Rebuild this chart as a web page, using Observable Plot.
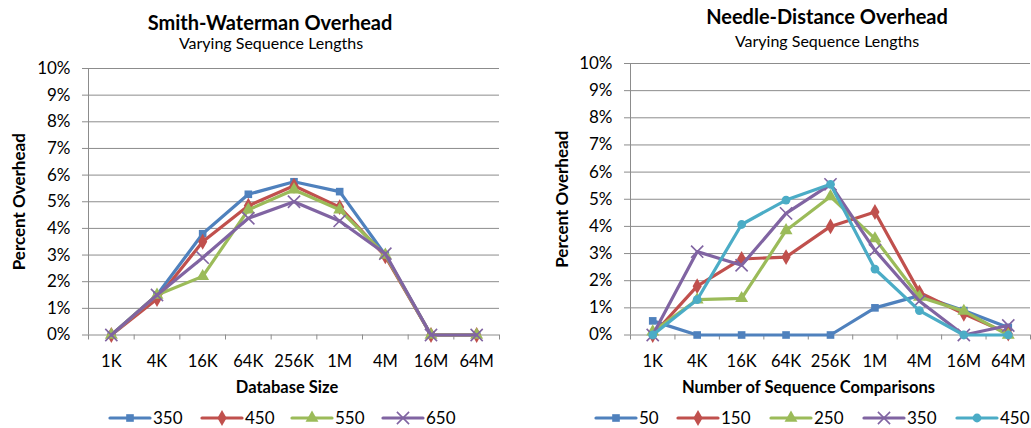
<!DOCTYPE html>
<html>
<head>
<meta charset="utf-8">
<script src="https://cdn.jsdelivr.net/npm/d3@7"></script>
<script src="https://cdn.jsdelivr.net/npm/@observablehq/plot@0.6"></script>
<style>
  html, body { margin: 0; padding: 0; background: #fff; }
  #wrap { position: relative; width: 1031px; height: 428px; overflow: hidden; font-family: Lato, "Open Sans", sans-serif; }
  #wrap > .panel { position: absolute; top: 0; }
  #overlay { position: absolute; left: 0; top: 0; pointer-events: none; }
</style>
</head>
<body>
<div id="wrap"></div>
<script>
// ---------- data ----------
const categories = ["1K", "4K", "16K", "64K", "256K", "1M", "4M", "16M", "64M"];
const yTicks = [0, 1, 2, 3, 4, 5, 6, 7, 8, 9, 10];

// Smith-Waterman (percent overhead), series = sequence length
const swNames = ["350", "450", "550", "650"];
const sw350 = [0, 1.5, 3.8, 5.28, 5.75, 5.38, 3.0, 0, 0];
const sw450 = [0, 1.35, 3.5, 4.85, 5.6, 4.8, 2.95, 0, 0];
const sw550 = [0, 1.5, 2.2, 4.7, 5.45, 4.7, 3.0, 0, 0];
const sw650 = [0, 1.5, 2.9, 4.38, 5.0, 4.28, 3.05, 0, 0];

// Needle-Distance (percent overhead)
const ndNames = ["50", "150", "250", "350", "450"];
const nd50  = [0.52, 0, 0, 0, 0, 1.0, 1.45, 0.9, 0.28];
const nd150 = [0, 1.8, 2.8, 2.87, 4.0, 4.53, 1.57, 0.78, 0.05];
const nd250 = [0.12, 1.3, 1.35, 3.85, 5.1, 3.55, 1.4, 0.88, 0];
const nd350 = [0, 3.07, 2.57, 4.48, 5.55, 3.12, 1.25, 0, 0.35];
const nd450 = [0, 1.3, 4.07, 4.97, 5.55, 2.43, 0.9, 0, 0];

// ---------- styles ----------
const FONT = "Lato, 'Open Sans', sans-serif";
const GRID = "#8c8c8c";
const palette = ["#4F81BD", "#C0504D", "#9BBB59", "#8064A2", "#4BACC6"];
const symbols = ["square", "diamond", "triangle", "times", "circle"];
const d3symbols = [d3.symbolSquare, d3.symbolDiamond, d3.symbolTriangle, d3.symbolTimes, d3.symbolCircle];
const symR = [4.3, 4.8, 4.8, 5.6, 4.4];

function makeChart({names, values, styleIdx, width, height, mt, mb, ml, mr, xLabel, xdx, ydx}) {
  const marks = [
    Plot.gridY({ticks: yTicks, stroke: GRID, strokeOpacity: 1, strokeWidth: 1}),
    Plot.axisY({ticks: yTicks, tickFormat: d => d + "%", tickSize: 6, tickPadding: 12, fontSize: 17, stroke: GRID, strokeOpacity: 1, label: null}),
    Plot.ruleX([-0.5], {stroke: GRID, strokeWidth: 1}),
    Plot.axisX({ticks: d3.range(-0.5, categories.length), tickFormat: () => "", tickSize: 5, stroke: GRID, strokeOpacity: 1, label: null}),
    Plot.axisX({ticks: d3.range(categories.length), tickFormat: i => categories[i], tickSize: 0, tickPadding: 20, fontSize: 16.5, label: null}),
    Plot.text(["Percent Overhead"], {frameAnchor: "left", rotate: -90, dx: ydx, textAnchor: "middle", lineAnchor: "middle", fontWeight: "bold", fontSize: 17, fill: "#000"}),
    Plot.text([xLabel], {frameAnchor: "bottom", dy: 53, dx: xdx, textAnchor: "middle", lineAnchor: "middle", fontWeight: "bold", fontSize: 16.5, fill: "#000"})
  ];
  names.forEach((n, si) => {
    const k = styleIdx[si];
    const pts = values[si].map((v, i) => ({i, v}));
    marks.push(Plot.line(pts, {x: "i", y: "v", stroke: palette[k], strokeWidth: 3.2, strokeLinejoin: "round"}));
    if (symbols[k] === "times") {
      marks.push(Plot.dot(pts, {x: "i", y: "v", symbol: "times", r: symR[k], stroke: palette[k], strokeWidth: 1.6}));
    } else {
      marks.push(Plot.dot(pts, {x: "i", y: "v", symbol: symbols[k], r: symR[k], fill: palette[k], stroke: "none"}));
    }
  });
  return Plot.plot({
    width, height,
    marginTop: mt, marginBottom: mb, marginLeft: ml, marginRight: mr,
    style: {fontFamily: FONT, fontSize: "16px", color: "#000", background: "transparent"},
    x: {type: "linear", domain: [-0.5, categories.length - 0.5], axis: null},
    y: {domain: [0, 10], axis: null},
    marks
  });
}

const wrap = document.getElementById("wrap");

const left = makeChart({
  names: swNames, values: [sw350, sw450, sw550, sw650], styleIdx: [0, 1, 2, 3],
  width: 515, height: 400, mt: 68, mb: 65.5, ml: 88, mr: 16,
  xLabel: "Database Size", xdx: -7, ydx: -69
});
left.classList.add("panel");
left.style.left = "0px";
wrap.appendChild(left);

const right = makeChart({
  names: ndNames, values: [nd50, nd150, nd250, nd350, nd450], styleIdx: [0, 1, 2, 3, 4],
  width: 511, height: 400, mt: 63, mb: 65.5, ml: 110, mr: 1,
  xLabel: "Number of Sequence Comparisons", xdx: -22, ydx: -68
});
right.classList.add("panel");
right.style.left = "520px";
wrap.appendChild(right);

// ---------- titles & legends (overlay) ----------
const svg = d3.select(wrap).append("svg").attr("id", "overlay")
  .attr("width", 1031).attr("height", 428)
  .style("font-family", FONT);

function title(x, y, txt, bold, size) {
  svg.append("text").attr("x", x).attr("y", y).attr("text-anchor", "middle")
    .attr("font-weight", bold ? "bold" : "normal").attr("font-size", size).attr("fill", "#000").text(txt);
}
title(270, 30, "Smith-Waterman Overhead", true, 20);
title(271, 49, "Varying Sequence Lengths", false, 16);
title(827, 24, "Needle-Distance Overhead", true, 20);
title(827, 47, "Varying Sequence Lengths", false, 16);

function legend(x0, names, styleIdx) {
  const cy = 418;
  names.forEach((n, si) => {
    const k = styleIdx[si];
    const x = x0[si];
    const g = svg.append("g").attr("transform", `translate(${x},${cy})`);
    g.append("line").attr("x1", 0).attr("x2", 40).attr("y1", 0).attr("y2", 0)
      .attr("stroke", palette[k]).attr("stroke-width", 3.2).attr("stroke-linecap", "round");
    const size = Math.PI * symR[k] * symR[k];
    const p = g.append("path").attr("transform", "translate(20,0)")
      .attr("d", d3.symbol(d3symbols[k], size)());
    if (symbols[k] === "times") p.attr("fill", "none").attr("stroke", palette[k]).attr("stroke-width", 1.6);
    else p.attr("fill", palette[k]);
    g.append("text").attr("x", 43).attr("y", 0).attr("dy", "0.36em").attr("font-size", 17).attr("fill", "#000").text(n);
  });
}
legend([110, 202, 292, 383], swNames, [0, 1, 2, 3]);
legend([596, 678, 771, 864, 957], ndNames, [0, 1, 2, 3, 4]);
</script>
</body>
</html>
